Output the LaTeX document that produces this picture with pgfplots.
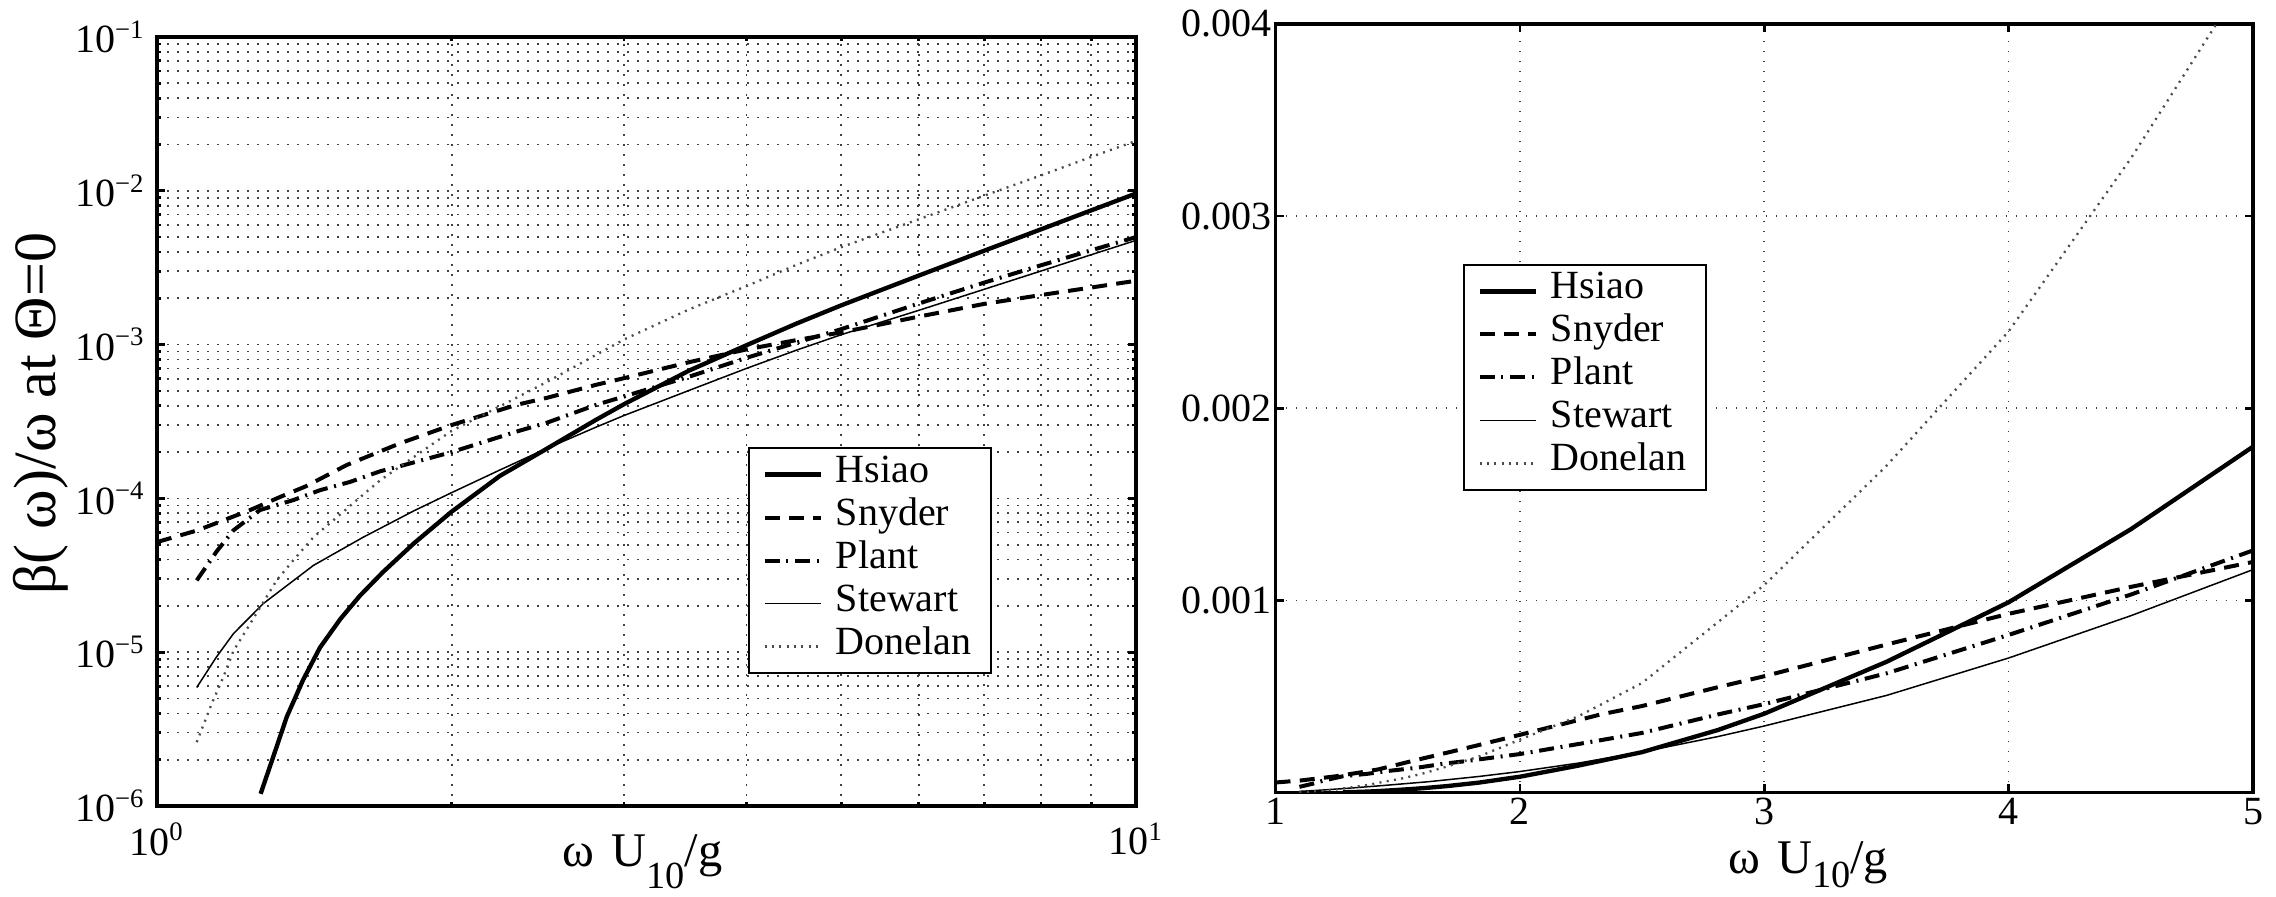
\documentclass[border=0pt]{standalone}
\usepackage{fontspec}
\setmainfont{Liberation Serif}
\usepackage{pgfplots}
\pgfplotsset{compat=1.18}
\usepackage{pgfplotstable}

\pgfplotstableread{
x y
1.276 1.2e-6
1.31 1.96e-6
1.357 3.8e-6
1.41 6.6e-6
1.467 1.07e-5
1.54 1.65e-5
1.611 2.32e-5
1.70 3.3e-5
1.83 5.1e-5
2.0 8.2e-5
2.24 1.4e-4
2.5 2.1e-4
2.81 3.25e-4
3.0 4.1e-4
3.5 6.8e-4
4.0 9.9e-4
4.5 1.37e-3
5.0 1.8e-3
6.0 2.81e-3
7.0 4.08e-3
8.0 5.62e-3
9.0 7.46e-3
10.0 9.6e-3
}\hsiao

\pgfplotstableread{
x y
1.0 5.2e-5
1.1 6.2e-5
1.245 8.4e-5
1.335 1.02e-4
1.42 1.2e-4
1.563 1.65e-4
1.771 2.28e-4
2.0 3.0e-4
2.33 4.06e-4
2.5 4.5e-4
2.81 5.48e-4
3.0 6.05e-4
3.5 7.7e-4
4.0 9.3e-4
4.5 1.07e-3
5.0 1.2e-3
6.0 1.52e-3
7.0 1.84e-3
8.0 2.1e-3
9.0 2.35e-3
10.0 2.6e-3
}\snyder

\pgfplotstableread{
x y
1.098 2.93e-5
1.15 4.5e-5
1.197 6.2e-5
1.274 8.4e-5
1.378 9.75e-5
1.467 1.13e-4
1.575 1.28e-4
1.69 1.5e-4
1.771 1.62e-4
2.0 2.0e-4
2.33 2.72e-4
2.5 3.1e-4
2.81 4.06e-4
3.0 4.6e-4
3.5 6.2e-4
4.0 8.2e-4
4.5 1.03e-3
5.0 1.26e-3
6.0 1.85e-3
7.0 2.53e-3
8.0 3.28e-3
9.0 4.1e-3
10.0 5.0e-3
}\plant

\pgfplotstableread{
x y
1.098 5.9e-6
1.15 9.3e-6
1.197 1.32e-5
1.284 2.07e-5
1.445 3.67e-5
1.625 5.6e-5
1.83 8.3e-5
2.0 1.09e-4
2.24 1.53e-4
2.5 2.11e-4
2.81 2.91e-4
3.0 3.46e-4
3.5 5.05e-4
4.0 7.0e-4
4.5 9.2e-4
5.0 1.16e-3
6.0 1.67e-3
7.0 2.29e-3
8.0 3.01e-3
9.0 3.84e-3
10.0 4.76e-3
}\stewart

\pgfplotstableread{
x y
1.098 2.6e-6
1.137 4.6e-6
1.169 6.9e-6
1.197 1.02e-5
1.245 1.53e-5
1.325 2.93e-5
1.378 3.96e-5
1.445 5.6e-5
1.514 7.2e-5
1.60 9.75e-5
1.69 1.31e-4
1.83 1.86e-4
2.0 2.75e-4
2.24 3.97e-4
2.5 5.7e-4
3.0 1.08e-3
3.5 1.7e-3
4.0 2.4e-3
4.5 3.3e-3
5.0 4.3e-3
6.0 6.53e-3
7.0 9.3e-3
8.0 1.26e-2
9.0 1.66e-2
10.0 2.11e-2
}\donelan

\tikzset{
  hsiaost/.style={black, line width=1.3pt},
  snyderst/.style={black, line width=1.2pt, dash pattern=on 4.5pt off 2.8pt},
  plantst/.style={black, line width=1.2pt, dash pattern=on 4.5pt off 2pt on 0.6pt off 2pt},
  stewartst/.style={black, line width=0.45pt},
  donelanst/.style={black!70, line width=0.7pt, dash pattern=on 0.6pt off 1.6pt},
}

\pgfplotsset{
  common/.style={
    scale only axis,
    axis line style={line width=1.1pt},
    tick align=inside,
    xtick pos=both, ytick pos=both,
    major tick length=2.4pt,
    minor tick length=1.3pt,
    every tick/.style={black, line width=0.8pt},
    tick label style={font=\fontsize{12}{14}\selectfont},
    major grid style={black!75, line width=0.5pt, dash pattern=on 0.5pt off 2.5pt},
    minor grid style={black!75, line width=0.5pt, dash pattern=on 0.5pt off 2.5pt},
    legend cell align=left,
    legend style={anchor=north west, draw=black, line width=0.6pt,
      font=\fontsize{12}{14}\selectfont,
      inner xsep=4pt, inner ysep=1.5pt, row sep=0pt, column sep=1.7pt,
      nodes={inner ysep=0pt, inner xsep=2pt, text height=8.7pt, text depth=4.2pt}},
    no markers,
  }
}

\newcommand{\xlab}[1]{\fontsize{14.5}{16}\selectfont ω\hspace{0.1em} U\raisebox{#1}{\fontsize{11.5}{13}\selectfont 10}/g}

\begin{document}
\begin{tikzpicture}
\begin{axis}[common,
  at={(0pt,0pt)}, anchor=south west,
  width=293.7pt, height=230.7pt,
  xmode=log, ymode=log,
  xmin=1, xmax=10, ymin=1e-6, ymax=1e-1,
  xtick={1,10},
  xticklabels={10\textsuperscript{0},10\textsuperscript{1}},
  minor xtick={2,3,4,5,6,7,8,9},
  ytick={1e-6,1e-5,1e-4,1e-3,1e-2,1e-1},
  yticklabels={10\textsuperscript{−6},10\textsuperscript{−5},10\textsuperscript{−4},10\textsuperscript{−3},10\textsuperscript{−2},10\textsuperscript{−1}},
  minor ytick={2e-6,3e-6,4e-6,5e-6,6e-6,7e-6,8e-6,9e-6,
               2e-5,3e-5,4e-5,5e-5,6e-5,7e-5,8e-5,9e-5,
               2e-4,3e-4,4e-4,5e-4,6e-4,7e-4,8e-4,9e-4,
               2e-3,3e-3,4e-3,5e-3,6e-3,7e-3,8e-3,9e-3,
               2e-2,3e-2,4e-2,5e-2,6e-2,7e-2,8e-2,9e-2},
  grid=both,
  xticklabel style={yshift=-1.5pt},
  every axis y label/.style={at={(axis description cs:-0.1185,0.51)}, rotate=90, anchor=center},
  every axis x label/.style={at={(axis description cs:0.496,-0.0793)}, anchor=base, inner sep=0pt},
  ylabel={\fontsize{18}{20}\selectfont β( ω)/ω at Θ=0},
  xlabel={\xlab{-6.4pt}},
  legend style={at={(axis description cs:0.6037,0.4668)}},
]
\addplot[hsiaost] table[x=x,y=y] {\hsiao};
\addlegendentry{Hsiao}
\addplot[snyderst] table[x=x,y=y] {\snyder};
\addlegendentry{Snyder}
\addplot[plantst] table[x=x,y=y] {\plant};
\addlegendentry{Plant}
\addplot[stewartst] table[x=x,y=y] {\stewart};
\addlegendentry{Stewart}
\addplot[donelanst] table[x=x,y=y] {\donelan};
\addlegendentry{Donelan}
\end{axis}

\begin{axis}[common,
  at={(335.55pt,4.05pt)}, anchor=south west,
  width=293.25pt, height=230.55pt,
  xmin=1, xmax=5, ymin=0, ymax=0.004,
  xtick={1,2,3,4,5}, xticklabels={1,2,3,4,5},
  xticklabel style={inner ysep=1pt, yshift=-0.5pt},
  ytick={0.001,0.002,0.003,0.004},
  yticklabels={0.001,0.002,0.003,0.004},
  scaled y ticks=false,
  yticklabel style={inner xsep=1pt},
  grid=major,
  every axis x label/.style={at={(axis description cs:0.545,-0.106)}, anchor=base, inner sep=0pt},
  xlabel={\xlab{-4pt}},
  legend style={at={(axis description cs:0.1918,0.6877)}},
]
\addplot[hsiaost] table[x=x,y=y] {\hsiao};
\addlegendentry{Hsiao}
\addplot[snyderst] table[x=x,y=y] {\snyder};
\addlegendentry{Snyder}
\addplot[plantst] table[x=x,y=y] {\plant};
\addlegendentry{Plant}
\addplot[stewartst] table[x=x,y=y] {\stewart};
\addlegendentry{Stewart}
\addplot[donelanst] table[x=x,y=y] {\donelan};
\addlegendentry{Donelan}
\end{axis}

\pgfresetboundingbox
\useasboundingbox (-47.1pt,-27.3pt) rectangle (635.7pt,241.8pt);
\end{tikzpicture}
\end{document}
